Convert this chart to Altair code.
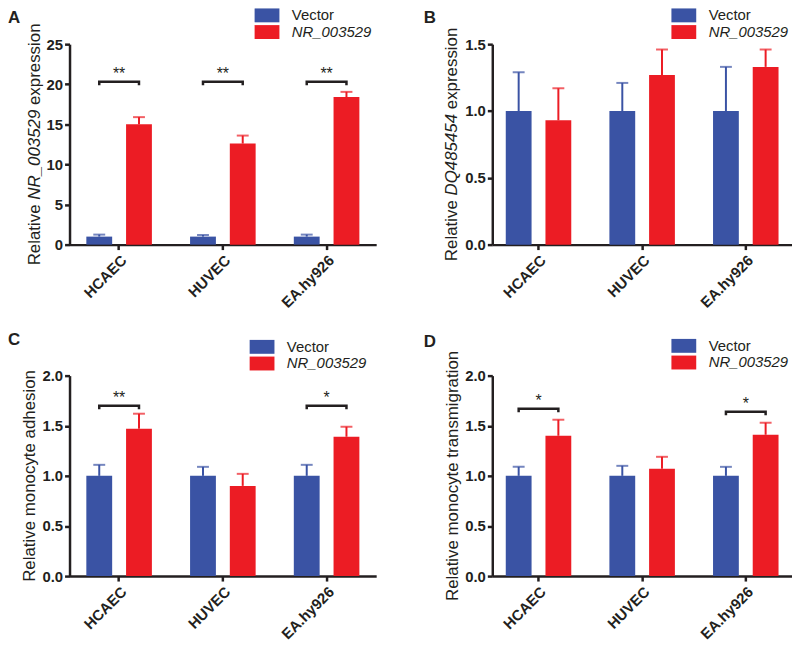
import altair as alt
import pandas as pd

CELLS = ["HCAEC", "HUVEC", "EA.hy926"]
GROUPS = ["Vector", "NR_003529"]
BLUE = "#3A53A4"
RED = "#EC1C24"
INK = "#231F20"
FONT = "Liberation Sans"

# ---- Panel A: Relative NR_003529 expression
A_VEC = [1.0, 1.0, 1.0]
A_VEC_ERR = [0.25, 0.2, 0.25]
A_NR = [15.0, 12.6, 18.4]
A_NR_ERR = [0.9, 1.0, 0.65]
A_SIG_CELLS = ["HCAEC", "HUVEC", "EA.hy926"]
A_SIG_Y = [20.3, 20.3, 20.3]
A_SIG_LABELS = ["**", "**", "**"]
A_TICKS = [0, 5, 10, 15, 20, 25]

# ---- Panel B: Relative DQ485454 expression
B_VEC = [1.0, 1.0, 1.0]
B_VEC_ERR = [0.29, 0.21, 0.33]
B_NR = [0.93, 1.27, 1.33]
B_NR_ERR = [0.24, 0.19, 0.13]
B_SIG_CELLS = []
B_SIG_Y = []
B_SIG_LABELS = []
B_TICKS = [0.0, 0.5, 1.0, 1.5]

# ---- Panel C: Relative monocyte adhesion
C_VEC = [1.0, 1.0, 1.0]
C_VEC_ERR = [0.11, 0.09, 0.11]
C_NR = [1.47, 0.90, 1.39]
C_NR_ERR = [0.15, 0.12, 0.10]
C_SIG_CELLS = ["HCAEC", "EA.hy926"]
C_SIG_Y = [1.70, 1.70]
C_SIG_LABELS = ["**", "*"]
C_TICKS = [0.0, 0.5, 1.0, 1.5, 2.0]

# ---- Panel D: Relative monocyte transmigration
D_VEC = [1.0, 1.0, 1.0]
D_VEC_ERR = [0.09, 0.10, 0.09]
D_NR = [1.40, 1.07, 1.41]
D_NR_ERR = [0.16, 0.12, 0.12]
D_SIG_CELLS = ["HCAEC", "EA.hy926"]
D_SIG_Y = [1.67, 1.64]
D_SIG_LABELS = ["*", "*"]
D_TICKS = [0.0, 0.5, 1.0, 1.5, 2.0]

# Arial-metric advance widths (per 1000 em) used to lay out the mixed-style axis titles
ADV = {"R": 722, "e": 556, "l": 222, "a": 556, "t": 278, "i": 222, "v": 500, " ": 278,
       "N": 722, "_": 556, "D": 722, "Q": 778, "x": 500, "p": 556, "r": 333, "s": 500,
       "o": 556, "n": 556, "m": 833, "c": 500, "y": 500, "d": 556, "h": 556, "g": 556}
for ch in "0123456789":
    ADV[ch] = 556

H = 202
TITLE_SIZE = 17
SWATCH_H = 14      # legend swatch height (px)
SWATCH_W = 25      # legend swatch width (px)
XR = SWATCH_W / SWATCH_H  # path half-width in units of half-height


def text_width(s, size):
    return sum(ADV.get(ch, 556) for ch in s) * size / 1000.0


def panel(letter, title_parts, vec, vec_err, nr, nr_err, ymax, ticks, fmt,
          width, pad_outer, sig_cells, sig_y, sig_labels, legend_pos, letter_pos, title_x):
    rows = []
    for i, c in enumerate(CELLS):
        rows.append(dict(cell=c, group="Vector", value=vec[i], top=vec[i] + vec_err[i]))
        rows.append(dict(cell=c, group="NR_003529", value=nr[i], top=nr[i] + nr_err[i]))
    df = pd.DataFrame(rows)

    xscale = alt.Scale(domain=CELLS, paddingInner=0.368, paddingOuter=pad_outer)
    xoscale = alt.Scale(domain=GROUPS, paddingInner=0.35, paddingOuter=0)
    yscale = alt.Scale(domain=[0, ymax], nice=False, zero=True)

    xaxis = alt.Axis(title=None, labelAngle=-45, labelFont=FONT, labelFontSize=15,
                     labelFontWeight="bold", labelColor=INK, labelPadding=3,
                     domainColor=INK, domainWidth=2.5, tickColor=INK, tickWidth=2.5,
                     tickSize=5, grid=False)
    yaxis = alt.Axis(title=None, values=ticks, format=fmt, labelFont=FONT, labelFontSize=15,
                     labelFontWeight="bold", labelColor=INK, labelPadding=2,
                     domainColor=INK, domainWidth=2.5, tickColor=INK, tickWidth=2.5,
                     tickSize=5, grid=False)

    # wide rectangular swatch: nominal symbol square is SWATCH_H, path stretched in x
    half_extra = (SWATCH_W - SWATCH_H) / 2.0
    legend = alt.Legend(
        orient="none", legendX=legend_pos[0] + half_extra, legendY=legend_pos[1], title=None,
        symbolType=f"M-{XR:.4f},-1H{XR:.4f}V1H-{XR:.4f}Z", symbolSize=SWATCH_H ** 2,
        symbolStrokeWidth=0, symbolOpacity=1, labelFont=FONT, labelFontSize=15,
        labelColor=INK, labelOffset=12 + half_extra, rowPadding=0.8, padding=0,
        labelFontStyle={"expr": "datum.label == 'NR_003529' ? 'italic' : 'normal'"},
    )

    def X():
        return alt.X("cell:N", sort=CELLS, scale=xscale, axis=xaxis)

    def XO():
        return alt.XOffset("group:N", sort=GROUPS, scale=xoscale)

    def Y(field):
        return alt.Y(field, scale=yscale, axis=yaxis)

    base = alt.Chart(df)
    color_cond = alt.condition(alt.datum.group == "Vector", alt.value(BLUE), alt.value(RED))

    bars = base.mark_bar().encode(
        x=X(), xOffset=XO(), y=Y("value:Q"),
        color=alt.Color("group:N", scale=alt.Scale(domain=GROUPS, range=[BLUE, RED]),
                        legend=legend),
    )
    err = base.mark_rule(strokeWidth=2).encode(
        x=X(), xOffset=XO(), y=Y("value:Q"), y2="top:Q", color=color_cond,
    )
    caps = base.mark_tick(thickness=2, size=12).encode(
        x=X(), xOffset=XO(), y=Y("top:Q"), color=color_cond,
    )
    layers = [bars, err, caps]

    if sig_cells:
        drop = 3.5 * ymax / H
        brows = []
        srows = []
        for c, yv, lab in zip(sig_cells, sig_y, sig_labels):
            brows += [
                dict(cell=c, group="Vector", y=yv - drop, k=0),
                dict(cell=c, group="Vector", y=yv, k=1),
                dict(cell=c, group="NR_003529", y=yv, k=2),
                dict(cell=c, group="NR_003529", y=yv - drop, k=3),
            ]
            srows.append(dict(cell=c, y=yv, label=lab))
        bracket = alt.Chart(pd.DataFrame(brows)).mark_line(
            color=INK, strokeWidth=2.5, strokeCap="butt", strokeJoin="miter").encode(
            x=X(), xOffset=XO(), y=Y("y:Q"), detail="cell:N", order="k:Q",
        )
        stars = alt.Chart(pd.DataFrame(srows)).mark_text(
            font=FONT, fontSize=16, color=INK, baseline="alphabetic", dy=-3).encode(
            x=X(), y=Y("y:Q"), text="label:N",
        )
        layers += [bracket, stars]

    # y-axis title assembled from pieces (part of it in italics)
    total = sum(text_width(t, TITLE_SIZE) for t, _ in title_parts)
    pos = H / 2 + total / 2
    for t, style in title_parts:
        w = text_width(t, TITLE_SIZE)
        lead = text_width(t[: len(t) - len(t.lstrip())], TITLE_SIZE)
        layers.append(
            alt.Chart(pd.DataFrame({"t": [t.strip()]})).mark_text(
                font=FONT, fontSize=TITLE_SIZE, fontStyle=style, color=INK, angle=270,
                align="left", baseline="alphabetic").encode(
                x=alt.value(title_x), y=alt.value(pos - lead), text="t:N")
        )
        pos -= w

    layers.append(
        alt.Chart(pd.DataFrame({"t": [letter]})).mark_text(
            font=FONT, fontSize=17, fontWeight="bold", color=INK, align="left",
            baseline="top").encode(
            x=alt.value(letter_pos[0]), y=alt.value(letter_pos[1]), text="t:N")
    )

    return alt.layer(*layers).properties(width=width, height=H)


pA = panel("A", [("Relative ", "normal"), ("NR_003529", "italic"), (" expression", "normal")],
           A_VEC, A_VEC_ERR, A_NR, A_NR_ERR, 25, A_TICKS, "d", 309, 0.162,
           A_SIG_CELLS, A_SIG_Y, A_SIG_LABELS, (186, -36.5), (-62, -34), -30)
pB = panel("B", [("Relative ", "normal"), ("DQ485454", "italic"), (" expression", "normal")],
           B_VEC, B_VEC_ERR, B_NR, B_NR_ERR, 1.5, B_TICKS, ".1f", 302, 0.13,
           B_SIG_CELLS, B_SIG_Y, B_SIG_LABELS, (180, -36.5), (-69, -34), -36)
pC = panel("C", [("Relative monocyte adhesion", "normal")],
           C_VEC, C_VEC_ERR, C_NR, C_NR_ERR, 2.0, C_TICKS, ".1f", 309, 0.162,
           C_SIG_CELLS, C_SIG_Y, C_SIG_LABELS, (181, -36.5), (-62, -44), -35)
pD = panel("D", [("Relative monocyte transmigration", "normal")],
           D_VEC, D_VEC_ERR, D_NR, D_NR_ERR, 2.0, D_TICKS, ".1f", 302, 0.13,
           D_SIG_CELLS, D_SIG_Y, D_SIG_LABELS, (180, -37.5), (-69, -42), -35)

chart = alt.concat(pA, pB, pC, pD, columns=2, spacing={"row": 132, "column": 117},
                   bounds="flush").resolve_scale(
    x="independent", y="independent", color="independent", xOffset="independent"
).resolve_legend(color="independent").properties(
    padding={"top": -3, "left": 0, "right": 0, "bottom": 0}
).configure(font=FONT).configure_view(stroke=None)

chart.save("out.html", embed_options={"renderer": "svg", "actions": False})
